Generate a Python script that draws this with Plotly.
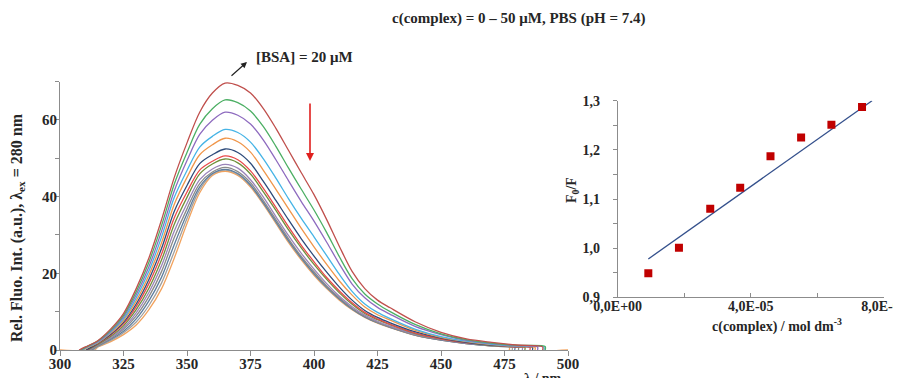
import plotly.graph_objects as go

# ---------------- data: emission spectra (left panel) ----------------
wl = [310, 315, 320, 325, 330, 335, 340, 345, 350, 355, 360, 365, 370, 375, 380,
      385, 390, 395, 400, 405, 410, 415, 420, 425, 430, 440, 450, 460, 470, 480]

c1 = [0.8, 2.5, 5.5, 9.5, 16.0, 24.0, 34.0, 45.0, 54.0, 62.0, 67.0, 69.6, 69.0, 67.0, 63.0,
      57.8, 52.0, 46.2, 40.5, 34.0, 27.0, 20.5, 16.0, 13.0, 11.0, 7.3, 4.6, 2.9, 2.0, 1.3]
c2 = [0.7, 2.4, 5.2, 9.0, 15.2, 22.9, 32.5, 43.3, 51.5, 58.8, 62.9, 65.2, 64.5, 62.3, 58.3,
      53.1, 47.4, 41.9, 36.5, 30.6, 24.3, 18.6, 14.6, 12.0, 10.0, 6.6, 4.2, 2.7, 1.8, 1.2]
c3 = [0.6, 2.2, 4.9, 8.6, 14.4, 21.7, 31.0, 41.5, 49.4, 56.2, 59.9, 62.0, 61.2, 58.9, 54.8,
      49.6, 44.1, 38.7, 33.6, 28.1, 22.4, 17.2, 13.6, 11.1, 9.3, 6.1, 4.0, 2.5, 1.7, 1.1]
c4 = [0.5, 2.1, 4.7, 8.1, 13.6, 20.6, 29.5, 39.8, 46.8, 52.9, 55.7, 57.5, 56.7, 54.2, 49.9,
      44.8, 39.4, 34.3, 29.5, 24.6, 19.7, 15.3, 12.0, 9.8, 8.2, 5.4, 3.5, 2.3, 1.5, 1.0]
c5 = [0.3, 1.9, 4.4, 7.7, 12.8, 19.5, 28.0, 38.0, 45.0, 50.9, 53.5, 55.2, 54.3, 51.6, 46.9,
      41.9, 36.8, 31.7, 26.9, 22.3, 18.0, 14.3, 11.2, 9.2, 7.8, 5.1, 3.3, 2.2, 1.4, 0.9]
c6 = [None, 1.8, 4.1, 7.2, 12.0, 18.4, 26.5, 36.2, 42.9, 48.6, 50.9, 52.4, 51.5, 48.7, 44.0,
      39.0, 33.9, 29.0, 24.5, 20.3, 16.4, 13.0, 10.3, 8.5, 7.1, 4.7, 3.1, 2.0, 1.3, 0.9]
c7 = [None, 1.7, 3.9, 6.8, 11.3, 17.3, 25.0, 34.5, 41.2, 46.9, 49.2, 50.6, 49.6, 46.7, 42.2,
      37.2, 32.1, 27.3, 23.0, 18.9, 15.4, 12.3, 9.8, 8.1, 6.7, 4.4, 2.9, 1.9, 1.3, 0.8]
c8 = [None, 1.5, 3.6, 6.3, 10.5, 16.1, 23.5, 32.8, 39.8, 45.9, 48.5, 49.8, 48.8, 45.9, 41.3,
      36.4, 31.3, 26.6, 22.3, 18.4, 14.9, 11.9, 9.5, 7.9, 6.6, 4.3, 2.9, 1.9, 1.2, 0.8]
c9 = [None, 1.4, 3.3, 5.8, 9.7, 15.0, 22.0, 31.0, 38.2, 44.4, 47.2, 48.4, 47.4, 44.4, 39.9,
      34.8, 29.8, 25.2, 21.1, 17.3, 14.0, 11.3, 9.1, 7.5, 6.2, 4.1, 2.8, 1.8, 1.2, 0.75]
c10 = [None, 1.2, 3.0, 5.4, 8.9, 13.9, 20.5, 29.3, 36.8, 43.4, 46.4, 47.6, 46.5, 43.6, 39.0,
       34.0, 29.0, 24.4, 20.4, 16.7, 13.6, 10.9, 8.8, 7.2, 6.0, 3.9, 2.7, 1.8, 1.1, 0.7]
c11 = [None, 1.1, 2.8, 4.9, 8.1, 12.8, 19.0, 27.5, 35.5, 42.5, 46.0, 47.1, 46.0, 43.0, 38.5,
       33.5, 28.5, 24.0, 19.9, 16.4, 13.3, 10.7, 8.6, 7.1, 5.9, 3.9, 2.6, 1.7, 1.1, None]
c12 = [None, 0.9, 2.5, 4.5, 7.3, 11.6, 17.5, 25.7, 34.3, 41.8, 45.8, 46.9, 45.8, 42.8, 38.3,
       33.3, 28.3, 23.8, 19.8, 16.2, 13.2, 10.6, 8.6, 7.1, 5.9, 3.8, 2.6, 1.7, 1.1, None]
c13 = [None, 0.8, 2.2, 4.0, 6.5, 10.5, 16.0, 24.0, 33.0, 41.0, 45.5, 46.6, 45.5, 42.5, 38.0,
       33.0, 28.0, 23.5, 19.5, 16.0, 13.0, 10.5, 8.5, 7.0, 5.8, 3.8, 2.6, 1.7, 1.1, None]

starts = [307.5, 308, 308.5, 309, 309.5, 310.2, 310.5, 311, 311.5, 312, 312.5, 313, 313.5]
ends = [490, 491, 488, 490.5, 487, 486, 485, 483, 482, 480.5, 479, 478, 477]
end_vals = [0.8, 0.9, 0.8, 0.8, 0.7, 0.7, 0.7, 0.7, 0.7, 0.7, 0.8, 0.8, 0.8]
colors = ["#C0504D", "#4CAF64", "#8E6BBF", "#46B4E6", "#F0964A", "#2E4B7A", "#E84A4A",
          "#6F8F3A", "#9A84B8", "#8A8A8A", "#5E7E9E", "#A0A0A0", "#F2A35E"]
curves = [c1, c2, c3, c4, c5, c6, c7, c8, c9, c10, c11, c12, c13]

# ---------------- data: Stern-Volmer plot (right panel) ----------------
conc = [9.2e-6, 1.84e-5, 2.78e-5, 3.68e-5, 4.59e-5, 5.51e-5, 6.42e-5, 7.34e-5]
f0_f = [0.949, 1.001, 1.080, 1.123, 1.187, 1.225, 1.251, 1.287]
fit_x = [9.2e-6, 7.64e-5]
fit_y = [0.978, 1.300]

x_ticks_r = [0, 4e-5, 8e-5]
x_ticktext_r = ["0,0E+00", "4,0E-05", "8,0E-05"]
y_ticks_r = [0.9, 1.0, 1.1, 1.2, 1.3]
y_ticktext_r = ["0,9", "1,0", "1,1", "1,2", "1,3"]

SERIF = "Liberation Serif, Times New Roman, serif"
TXT = "#262626"
AX = "#8C8C8C"
W, H = 901, 378
OFF = 8  # the page body margin shifts the figure by 8 px


def px(x):
    return (x - OFF) / W


def py(y):
    return 1 - (y - OFF) / H


fig = go.Figure()

n = len(curves)
for i in range(n - 1, -1, -1):
    ys = curves[i]
    xs = [starts[i]]
    yv = [0]
    for w, v in zip(wl, ys):
        if v is not None and w > starts[i] and w < ends[i]:
            xs.append(w)
            yv.append(v)
    xs += [ends[i], ends[i]]
    yv += [end_vals[i], 0]
    if i == n - 1:
        xs = [300] + xs + [500]
        yv = [0] + yv + [0]
    fig.add_trace(go.Scatter(x=xs, y=yv, mode="lines",
                             line=dict(color=colors[i], width=1.3, shape="spline", smoothing=0.9),
                             xaxis="x", yaxis="y", showlegend=False, hoverinfo="skip"))

fig.add_trace(go.Scatter(x=fit_x, y=fit_y, mode="lines",
                         line=dict(color="#34508C", width=1.3),
                         xaxis="x2", yaxis="y2", showlegend=False))
fig.add_trace(go.Scatter(x=conc, y=f0_f, mode="markers",
                         marker=dict(symbol="square", size=8, color="#C00000"),
                         xaxis="x2", yaxis="y2", showlegend=False))

tickfont = dict(family=SERIF, size=15, color=TXT, weight="bold")
tickfont_r = dict(family=SERIF, size=14, color=TXT, weight="bold")

fig.update_layout(
    width=W, height=H,
    margin=dict(l=0, r=0, t=0, b=0, autoexpand=False),
    paper_bgcolor="white", plot_bgcolor="white",
    showlegend=False,
    xaxis=dict(domain=[px(60), px(568)], range=[300, 500], tickvals=[300, 325, 350, 375, 400, 425, 450, 475, 500],
               showline=True, linecolor=AX, linewidth=1, ticks="outside", ticklen=5, tickcolor=AX,
               showgrid=False, zeroline=False, tickfont=tickfont, anchor="y", automargin=False,
               ticklabelstandoff=-5, ticklabeloverflow="allow"),
    yaxis=dict(domain=[py(350), py(81.5)], range=[0, 70], tickvals=[0, 20, 40, 60],
               showline=True, linecolor=AX, linewidth=1, ticks="outside", ticklen=4, tickcolor=AX,
               minor=dict(tickvals=[10, 30, 50, 70], ticks="outside", ticklen=4, tickcolor=AX),
               showgrid=False, zeroline=False, tickfont=tickfont, anchor="x", automargin=False,
               ticklabelstandoff=-5, ticklabeloverflow="allow"),
    xaxis2=dict(domain=[px(617.7), px(884)], range=[0, 8e-5], tickvals=x_ticks_r, ticktext=x_ticktext_r,
                showline=True, linecolor=AX, linewidth=1, ticks="inside", ticklen=4, tickcolor=AX,
                minor=dict(tickvals=[2e-5, 6e-5], ticks="inside", ticklen=4, tickcolor=AX),
                showgrid=False, zeroline=False, tickfont=tickfont_r,
                anchor="y2", ticklabelstandoff=-4, automargin=False, ticklabeloverflow="allow"),
    yaxis2=dict(domain=[py(297.3), py(100.7)], range=[0.9, 1.3], tickvals=y_ticks_r, ticktext=y_ticktext_r,
                showline=True, linecolor=AX, linewidth=1, ticks="outside", ticklen=4, tickcolor=AX,
                minor=dict(tickvals=[0.95, 1.05, 1.15, 1.25], ticks="outside", ticklen=4, tickcolor=AX),
                showgrid=False, zeroline=False, tickfont=tickfont_r,
                anchor="x2", ticklabelstandoff=10, automargin=False, ticklabeloverflow="allow"),
)


def bold(size):
    return dict(family=SERIF, size=size, color=TXT, weight="bold")


fig.add_annotation(text="c(complex) = 0 – 50 μM, PBS (pH = 7.4)", xref="paper", yref="paper",
                   x=px(518), y=py(18), showarrow=False, font=bold(15),
                   xanchor="center", yanchor="middle")
fig.add_annotation(text="[BSA] = 20 μM", xref="paper", yref="paper",
                   x=px(254), y=py(57), showarrow=False, font=bold(15),
                   xanchor="left", yanchor="middle")
# black arrow
fig.add_annotation(x=px(247), y=py(62), ax=-17, ay=15,
                   xref="paper", yref="paper", axref="pixel", ayref="pixel",
                   showarrow=True, arrowhead=2, arrowsize=1, arrowwidth=1.2, arrowcolor="#222222", text="")
# red arrow
fig.add_annotation(x=px(310), y=py(161), ax=0, ay=-59,
                   xref="paper", yref="paper", axref="pixel", ayref="pixel",
                   showarrow=True, arrowhead=2, arrowsize=1, arrowwidth=1.6, arrowcolor="#E0201E", text="")
fig.add_annotation(text="Rel. Fluo. Int. (a.u.), λ<sub>ex</sub> = 280 nm", xref="paper", yref="paper",
                   x=px(17), y=py(228), textangle=-90, showarrow=False, font=bold(16),
                   xanchor="center", yanchor="middle")
fig.add_annotation(text="λ / nm", xref="paper", yref="paper",
                   x=px(543), y=py(369), showarrow=False, font=bold(14),
                   xanchor="center", yanchor="top")
fig.add_annotation(text="F<sub>0</sub>/F", xref="paper", yref="paper",
                   x=px(573), y=py(190), textangle=-90, showarrow=False, font=bold(14),
                   xanchor="center", yanchor="middle")
fig.add_annotation(text="c(complex) / mol dm<sup>-3</sup>", xref="paper", yref="paper",
                   x=px(777), y=py(325), showarrow=False, font=bold(14),
                   xanchor="center", yanchor="middle")

fig.write_html("out.html")
